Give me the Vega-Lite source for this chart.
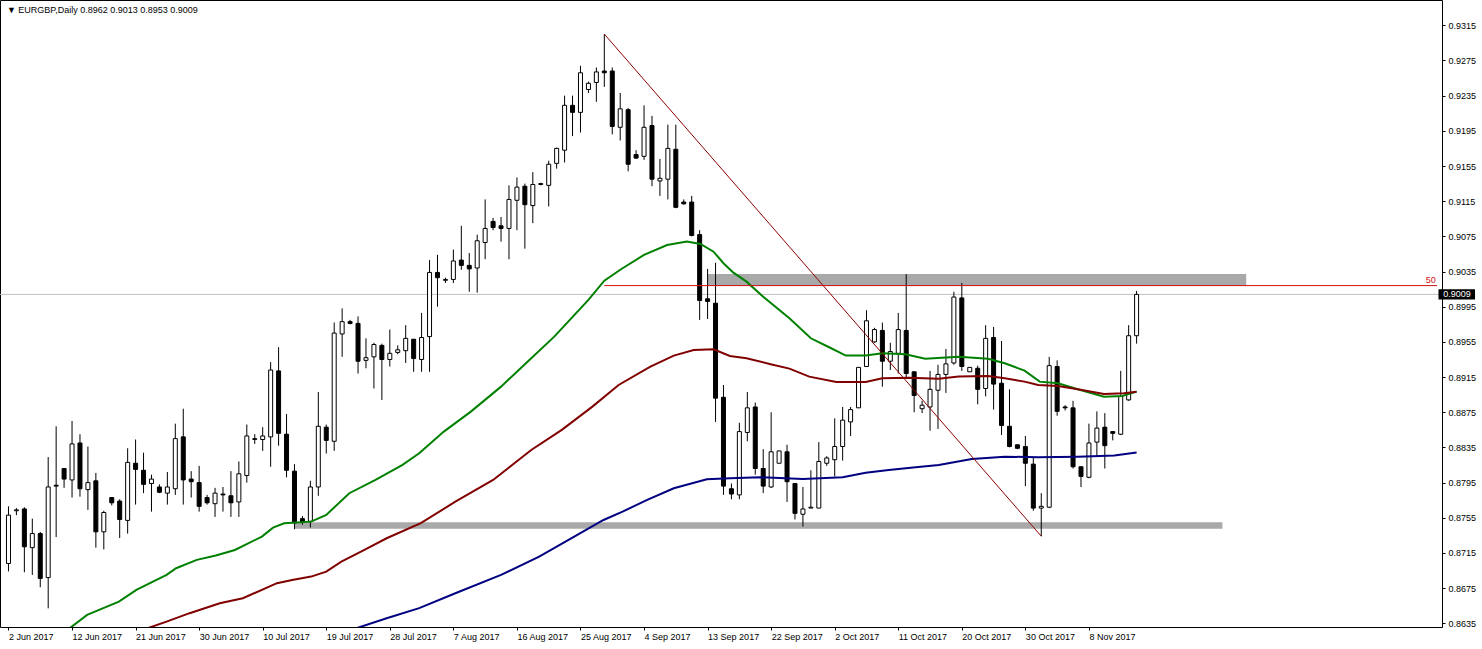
{
"$schema": "https://vega.github.io/schema/vega-lite/v6.json",
"width": 1442,
"height": 627,
"autosize": {"type": "none"},
"padding": {"left": 0, "top": 0, "right": 40, "bottom": 22},
"background": "white",
"config": {"view": {"stroke": "black", "strokeWidth": 1}, "font": "Liberation Sans",
"axis": {"grid": false, "domain": false, "tickSize": 3, "tickColor": "black", "labelFont": "Liberation Sans", "labelFontSize": 9, "labelColor": "black", "labelFlush": false, "labelOverlap": false}},
"datasets": {
"candles": [
{"i":0,"o":0.8703,"h":0.8768,"l":0.8694,"c":0.8758},
{"i":1,"o":0.8763,"h":0.8766,"l":0.8758,"c":0.8764},
{"i":2,"o":0.8765,"h":0.8767,"l":0.8693,"c":0.8722},
{"i":3,"o":0.8721,"h":0.8754,"l":0.8690,"c":0.8737},
{"i":4,"o":0.8737,"h":0.8739,"l":0.8676,"c":0.8686},
{"i":5,"o":0.8687,"h":0.8824,"l":0.8652,"c":0.8790},
{"i":6,"o":0.8792,"h":0.8859,"l":0.8733,"c":0.8791},
{"i":7,"o":0.8811,"h":0.8811,"l":0.8789,"c":0.8799},
{"i":8,"o":0.8798,"h":0.8865,"l":0.8778,"c":0.8839},
{"i":9,"o":0.8840,"h":0.8850,"l":0.8779,"c":0.8788},
{"i":10,"o":0.8787,"h":0.8836,"l":0.8764,"c":0.8795},
{"i":11,"o":0.8797,"h":0.8806,"l":0.8721,"c":0.8739},
{"i":12,"o":0.8739,"h":0.8763,"l":0.8719,"c":0.8761},
{"i":13,"o":0.8778,"h":0.8778,"l":0.8769,"c":0.8772},
{"i":14,"o":0.8774,"h":0.8776,"l":0.8732,"c":0.8753},
{"i":15,"o":0.8752,"h":0.8834,"l":0.8737,"c":0.8818},
{"i":16,"o":0.8817,"h":0.8844,"l":0.8770,"c":0.8810},
{"i":17,"o":0.8809,"h":0.8829,"l":0.8783,"c":0.8793},
{"i":18,"o":0.8794,"h":0.8804,"l":0.8762,"c":0.8799},
{"i":19,"o":0.8790,"h":0.8793,"l":0.8783,"c":0.8784},
{"i":20,"o":0.8783,"h":0.8807,"l":0.8770,"c":0.8790},
{"i":21,"o":0.8788,"h":0.8862,"l":0.8781,"c":0.8845},
{"i":22,"o":0.8847,"h":0.8879,"l":0.8770,"c":0.8798},
{"i":23,"o":0.8799,"h":0.8808,"l":0.8778,"c":0.8796},
{"i":24,"o":0.8795,"h":0.8814,"l":0.8762,"c":0.8768},
{"i":25,"o":0.8778,"h":0.8781,"l":0.8770,"c":0.8772},
{"i":26,"o":0.8771,"h":0.8789,"l":0.8756,"c":0.8783},
{"i":27,"o":0.8782,"h":0.8790,"l":0.8762,"c":0.8781},
{"i":28,"o":0.8780,"h":0.8808,"l":0.8756,"c":0.8772},
{"i":29,"o":0.8773,"h":0.8819,"l":0.8756,"c":0.8805},
{"i":30,"o":0.8803,"h":0.8861,"l":0.8795,"c":0.8848},
{"i":31,"o":0.8844,"h":0.8850,"l":0.8839,"c":0.8845},
{"i":32,"o":0.8844,"h":0.8858,"l":0.8831,"c":0.8848},
{"i":33,"o":0.8847,"h":0.8932,"l":0.8813,"c":0.8923},
{"i":34,"o":0.8922,"h":0.8949,"l":0.8837,"c":0.8851},
{"i":35,"o":0.8850,"h":0.8873,"l":0.8801,"c":0.8809},
{"i":36,"o":0.8808,"h":0.8816,"l":0.8742,"c":0.8749},
{"i":37,"o":0.8754,"h":0.8757,"l":0.8747,"c":0.8750},
{"i":38,"o":0.8751,"h":0.8797,"l":0.8744,"c":0.8790},
{"i":39,"o":0.8790,"h":0.8898,"l":0.8780,"c":0.8859},
{"i":40,"o":0.8858,"h":0.8861,"l":0.8828,"c":0.8843},
{"i":41,"o":0.8842,"h":0.8977,"l":0.8831,"c":0.8965},
{"i":42,"o":0.8964,"h":0.8993,"l":0.8938,"c":0.8978},
{"i":43,"o":0.8978,"h":0.8980,"l":0.8975,"c":0.8976},
{"i":44,"o":0.8976,"h":0.8984,"l":0.8919,"c":0.8933},
{"i":45,"o":0.8934,"h":0.8959,"l":0.8925,"c":0.8937},
{"i":46,"o":0.8938,"h":0.8954,"l":0.8902,"c":0.8952},
{"i":47,"o":0.8951,"h":0.8953,"l":0.8889,"c":0.8935},
{"i":48,"o":0.8935,"h":0.8969,"l":0.8927,"c":0.8942},
{"i":49,"o":0.8943,"h":0.8951,"l":0.8941,"c":0.8946},
{"i":50,"o":0.8945,"h":0.8974,"l":0.8931,"c":0.8959},
{"i":51,"o":0.8958,"h":0.8958,"l":0.8921,"c":0.8936},
{"i":52,"o":0.8935,"h":0.8988,"l":0.8921,"c":0.8960},
{"i":53,"o":0.8961,"h":0.9048,"l":0.8921,"c":0.9034},
{"i":54,"o":0.9034,"h":0.9054,"l":0.8995,"c":0.9028},
{"i":55,"o":0.9025,"h":0.9028,"l":0.9022,"c":0.9026},
{"i":56,"o":0.9026,"h":0.9060,"l":0.9022,"c":0.9047},
{"i":57,"o":0.9048,"h":0.9087,"l":0.9037,"c":0.9042},
{"i":58,"o":0.9042,"h":0.9056,"l":0.9012,"c":0.9038},
{"i":59,"o":0.9039,"h":0.9077,"l":0.9011,"c":0.9070},
{"i":60,"o":0.9068,"h":0.9117,"l":0.9049,"c":0.9084},
{"i":61,"o":0.9092,"h":0.9096,"l":0.9082,"c":0.9085},
{"i":62,"o":0.9087,"h":0.9097,"l":0.9069,"c":0.9084},
{"i":63,"o":0.9084,"h":0.9133,"l":0.9049,"c":0.9117},
{"i":64,"o":0.9116,"h":0.9142,"l":0.9082,"c":0.9131},
{"i":65,"o":0.9132,"h":0.9135,"l":0.9061,"c":0.9111},
{"i":66,"o":0.9110,"h":0.9148,"l":0.9090,"c":0.9134},
{"i":67,"o":0.9134,"h":0.9136,"l":0.9133,"c":0.9135},
{"i":68,"o":0.9133,"h":0.9161,"l":0.9109,"c":0.9157},
{"i":69,"o":0.9158,"h":0.9176,"l":0.9152,"c":0.9175},
{"i":70,"o":0.9173,"h":0.9235,"l":0.9159,"c":0.9224},
{"i":71,"o":0.9224,"h":0.9235,"l":0.9189,"c":0.9216},
{"i":72,"o":0.9216,"h":0.9269,"l":0.9193,"c":0.9261},
{"i":73,"o":0.9242,"h":0.9251,"l":0.9238,"c":0.9249},
{"i":74,"o":0.9250,"h":0.9267,"l":0.9228,"c":0.9262},
{"i":75,"o":0.9263,"h":0.9305,"l":0.9245,"c":0.9261},
{"i":76,"o":0.9263,"h":0.9267,"l":0.9191,"c":0.9200},
{"i":77,"o":0.9199,"h":0.9238,"l":0.9184,"c":0.9220},
{"i":78,"o":0.9219,"h":0.9221,"l":0.9149,"c":0.9157},
{"i":79,"o":0.9168,"h":0.9173,"l":0.9163,"c":0.9164},
{"i":80,"o":0.9166,"h":0.9224,"l":0.9162,"c":0.9199},
{"i":81,"o":0.9201,"h":0.9212,"l":0.9132,"c":0.9140},
{"i":82,"o":0.9138,"h":0.9163,"l":0.9121,"c":0.9141},
{"i":83,"o":0.9140,"h":0.9202,"l":0.9117,"c":0.9175},
{"i":84,"o":0.9174,"h":0.9202,"l":0.9107,"c":0.9108},
{"i":85,"o":0.9114,"h":0.9117,"l":0.9111,"c":0.9112},
{"i":86,"o":0.9114,"h":0.9121,"l":0.9075,"c":0.9076},
{"i":87,"o":0.9077,"h":0.9082,"l":0.8980,"c":0.9002},
{"i":88,"o":0.9004,"h":0.9038,"l":0.8981,"c":0.9001},
{"i":89,"o":0.8999,"h":0.9045,"l":0.8864,"c":0.8891},
{"i":90,"o":0.8892,"h":0.8906,"l":0.8781,"c":0.8791},
{"i":91,"o":0.8788,"h":0.8794,"l":0.8776,"c":0.8782},
{"i":92,"o":0.8781,"h":0.8863,"l":0.8776,"c":0.8853},
{"i":93,"o":0.8852,"h":0.8898,"l":0.8842,"c":0.8880},
{"i":94,"o":0.8881,"h":0.8886,"l":0.8804,"c":0.8811},
{"i":95,"o":0.8811,"h":0.8833,"l":0.8783,"c":0.8791},
{"i":96,"o":0.8790,"h":0.8875,"l":0.8789,"c":0.8830},
{"i":97,"o":0.8817,"h":0.8831,"l":0.8817,"c":0.8831},
{"i":98,"o":0.8830,"h":0.8838,"l":0.8773,"c":0.8796},
{"i":99,"o":0.8794,"h":0.8794,"l":0.8753,"c":0.8760},
{"i":100,"o":0.8759,"h":0.8790,"l":0.8745,"c":0.8765},
{"i":101,"o":0.8766,"h":0.8809,"l":0.8766,"c":0.8767},
{"i":102,"o":0.8766,"h":0.8841,"l":0.8766,"c":0.8819},
{"i":103,"o":0.8817,"h":0.8825,"l":0.8814,"c":0.8823},
{"i":104,"o":0.8821,"h":0.8868,"l":0.8802,"c":0.8836},
{"i":105,"o":0.8836,"h":0.8881,"l":0.8820,"c":0.8866},
{"i":106,"o":0.8864,"h":0.8881,"l":0.8848,"c":0.8878},
{"i":107,"o":0.8880,"h":0.8926,"l":0.8880,"c":0.8926},
{"i":108,"o":0.8927,"h":0.8991,"l":0.8927,"c":0.8979},
{"i":109,"o":0.8955,"h":0.8971,"l":0.8954,"c":0.8969},
{"i":110,"o":0.8968,"h":0.8977,"l":0.8904,"c":0.8933},
{"i":111,"o":0.8933,"h":0.8954,"l":0.8923,"c":0.8944},
{"i":112,"o":0.8942,"h":0.8988,"l":0.8919,"c":0.8969},
{"i":113,"o":0.8968,"h":0.9032,"l":0.8914,"c":0.8919},
{"i":114,"o":0.8921,"h":0.8921,"l":0.8875,"c":0.8894},
{"i":115,"o":0.8879,"h":0.8888,"l":0.8874,"c":0.8883},
{"i":116,"o":0.8881,"h":0.8922,"l":0.8854,"c":0.8901},
{"i":117,"o":0.8900,"h":0.8929,"l":0.8856,"c":0.8918},
{"i":118,"o":0.8918,"h":0.8947,"l":0.8897,"c":0.8930},
{"i":119,"o":0.8931,"h":0.9012,"l":0.8929,"c":0.9006},
{"i":120,"o":0.9005,"h":0.9022,"l":0.8922,"c":0.8927},
{"i":121,"o":0.8921,"h":0.8926,"l":0.8921,"c":0.8926},
{"i":122,"o":0.8925,"h":0.8928,"l":0.8884,"c":0.8901},
{"i":123,"o":0.8902,"h":0.8974,"l":0.8893,"c":0.8959},
{"i":124,"o":0.8960,"h":0.8972,"l":0.8878,"c":0.8907},
{"i":125,"o":0.8908,"h":0.8956,"l":0.8849,"c":0.8860},
{"i":126,"o":0.8859,"h":0.8901,"l":0.8835,"c":0.8836},
{"i":127,"o":0.8838,"h":0.8838,"l":0.8833,"c":0.8834},
{"i":128,"o":0.8836,"h":0.8848,"l":0.8791,"c":0.8817},
{"i":129,"o":0.8816,"h":0.8823,"l":0.8763,"c":0.8766},
{"i":130,"o":0.8766,"h":0.8783,"l":0.8734,"c":0.8768},
{"i":131,"o":0.8767,"h":0.8938,"l":0.8766,"c":0.8928},
{"i":132,"o":0.8927,"h":0.8934,"l":0.8871,"c":0.8876},
{"i":133,"o":0.8881,"h":0.8883,"l":0.8877,"c":0.8880},
{"i":134,"o":0.8880,"h":0.8888,"l":0.8811,"c":0.8813},
{"i":135,"o":0.8813,"h":0.8813,"l":0.8790,"c":0.8802},
{"i":136,"o":0.8801,"h":0.8862,"l":0.8800,"c":0.8840},
{"i":137,"o":0.8841,"h":0.8876,"l":0.8824,"c":0.8857},
{"i":138,"o":0.8858,"h":0.8874,"l":0.8811,"c":0.8837},
{"i":139,"o":0.8853,"h":0.8853,"l":0.8843,"c":0.8851},
{"i":140,"o":0.8850,"h":0.8922,"l":0.8849,"c":0.8893},
{"i":141,"o":0.8889,"h":0.8974,"l":0.8888,"c":0.8962},
{"i":142,"o":0.8962,"h":0.9013,"l":0.8953,"c":0.9009}
],
"ma": [
{"s":"MA50","i":7.7,"v":0.86294},{"s":"MA50","i":9.9,"v":0.86445},{"s":"MA50","i":13.9,"v":0.86597},{"s":"MA50","i":16.1,"v":0.86730},{"s":"MA50","i":19.9,"v":0.86900},{"s":"MA50","i":21.1,"v":0.86976},{"s":"MA50","i":23.7,"v":0.87071},{"s":"MA50","i":26.1,"v":0.87120},{"s":"MA50","i":28.5,"v":0.87184},{"s":"MA50","i":31.9,"v":0.87336},{"s":"MA50","i":33.3,"v":0.87438},{"s":"MA50","i":34.7,"v":0.87488},{"s":"MA50","i":38.1,"v":0.87506},{"s":"MA50","i":40,"v":0.87582},{"s":"MA50","i":42.9,"v":0.87829},{"s":"MA50","i":46.2,"v":0.87980},{"s":"MA50","i":49.6,"v":0.88151},{"s":"MA50","i":51.7,"v":0.88284},{"s":"MA50","i":54.8,"v":0.88530},{"s":"MA50","i":58.2,"v":0.88757},{"s":"MA50","i":62,"v":0.89041},{"s":"MA50","i":64.9,"v":0.89288},{"s":"MA50","i":68.7,"v":0.89610},{"s":"MA50","i":73,"v":0.90027},{"s":"MA50","i":75,"v":0.90246},{"s":"MA50","i":77.1,"v":0.90376},{"s":"MA50","i":80,"v":0.90539},{"s":"MA50","i":82.9,"v":0.90652},{"s":"MA50","i":85.4,"v":0.90690},{"s":"MA50","i":87.1,"v":0.90664},{"s":"MA50","i":88.75,"v":0.90576},{"s":"MA50","i":90,"v":0.90444},{"s":"MA50","i":91.25,"v":0.90337},{"s":"MA50","i":92.9,"v":0.90235},{"s":"MA50","i":95,"v":0.90064},{"s":"MA50","i":98.3,"v":0.89819},{"s":"MA50","i":101,"v":0.89591},{"s":"MA50","i":103.3,"v":0.89489},{"s":"MA50","i":105.4,"v":0.89394},{"s":"MA50","i":107.9,"v":0.89394},{"s":"MA50","i":110,"v":0.89421},{"s":"MA50","i":112.9,"v":0.89410},{"s":"MA50","i":115.4,"v":0.89359},{"s":"MA50","i":119.6,"v":0.89382},{"s":"MA50","i":123.3,"v":0.89359},{"s":"MA50","i":125.4,"v":0.89307},{"s":"MA50","i":127.9,"v":0.89223},{"s":"MA50","i":129.8,"v":0.89098},{"s":"MA50","i":132.1,"v":0.89080},{"s":"MA50","i":134.6,"v":0.89011},{"s":"MA50","i":137.9,"v":0.88927},{"s":"MA50","i":140.2,"v":0.88935},{"s":"MA50","i":142,"v":0.88984},
{"s":"MA100","i":17.5,"v":0.86294},{"s":"MA100","i":19.9,"v":0.86369},{"s":"MA100","i":22.8,"v":0.86465},{"s":"MA100","i":26.6,"v":0.86578},{"s":"MA100","i":29.5,"v":0.86635},{"s":"MA100","i":33.8,"v":0.86806},{"s":"MA100","i":35.7,"v":0.86843},{"s":"MA100","i":38.1,"v":0.86881},{"s":"MA100","i":40,"v":0.86938},{"s":"MA100","i":41.9,"v":0.87051},{"s":"MA100","i":44.8,"v":0.87184},{"s":"MA100","i":47.6,"v":0.87317},{"s":"MA100","i":51.9,"v":0.87488},{"s":"MA100","i":56.25,"v":0.87733},{"s":"MA100","i":61,"v":0.87980},{"s":"MA100","i":65.8,"v":0.88321},{"s":"MA100","i":69.65,"v":0.88549},{"s":"MA100","i":73.5,"v":0.88814},{"s":"MA100","i":76.8,"v":0.89060},{"s":"MA100","i":80.8,"v":0.89268},{"s":"MA100","i":83.75,"v":0.89394},{"s":"MA100","i":86.25,"v":0.89458},{"s":"MA100","i":88.75,"v":0.89466},{"s":"MA100","i":90.8,"v":0.89390},{"s":"MA100","i":92.9,"v":0.89364},{"s":"MA100","i":95.8,"v":0.89299},{"s":"MA100","i":98.3,"v":0.89246},{"s":"MA100","i":100.8,"v":0.89155},{"s":"MA100","i":104.2,"v":0.89095},{"s":"MA100","i":107.9,"v":0.89095},{"s":"MA100","i":110,"v":0.89137},{"s":"MA100","i":113.3,"v":0.89143},{"s":"MA100","i":117.1,"v":0.89132},{"s":"MA100","i":119.6,"v":0.89155},{"s":"MA100","i":123.3,"v":0.89163},{"s":"MA100","i":125.4,"v":0.89137},{"s":"MA100","i":127.9,"v":0.89098},{"s":"MA100","i":129.6,"v":0.89060},{"s":"MA100","i":132.1,"v":0.89049},{"s":"MA100","i":134.6,"v":0.89011},{"s":"MA100","i":137.9,"v":0.88958},{"s":"MA100","i":140.4,"v":0.88966},{"s":"MA100","i":142,"v":0.88984},
{"s":"MA200","i":43.8,"v":0.86294},{"s":"MA200","i":47.6,"v":0.86408},{"s":"MA200","i":51.7,"v":0.86522},{"s":"MA200","i":56.25,"v":0.86692},{"s":"MA200","i":62,"v":0.86900},{"s":"MA200","i":66.8,"v":0.87108},{"s":"MA200","i":71.6,"v":0.87355},{"s":"MA200","i":74.9,"v":0.87525},{"s":"MA200","i":77.3,"v":0.87620},{"s":"MA200","i":80.4,"v":0.87753},{"s":"MA200","i":83.75,"v":0.87886},{"s":"MA200","i":87.9,"v":0.87988},{"s":"MA200","i":90.8,"v":0.87999},{"s":"MA200","i":94.6,"v":0.88011},{"s":"MA200","i":100,"v":0.87992},{"s":"MA200","i":105,"v":0.88011},{"s":"MA200","i":107.9,"v":0.88063},{"s":"MA200","i":110.8,"v":0.88094},{"s":"MA200","i":114.2,"v":0.88125},{"s":"MA200","i":117.1,"v":0.88151},{"s":"MA200","i":121.25,"v":0.88219},{"s":"MA200","i":125.4,"v":0.88245},{"s":"MA200","i":129.6,"v":0.88238},{"s":"MA200","i":134.6,"v":0.88245},{"s":"MA200","i":139.2,"v":0.88257},{"s":"MA200","i":142,"v":0.88291}
],
"zones": [
{"x1":36.02,"x2":152.8,"p1":0.87426,"p2":0.87498},
{"x1":88.03,"x2":155.8,"p1":0.90185,"p2":0.90322}
],
"fib": [
{"i1":75,"p1":0.9305,"i2":130,"p2":0.8734}
]
},
"layer": [
{
"data": {"name": "zones"},
"mark": {"type": "rect", "color": "#A9A9A9", "clip": true},
"encoding": {
"x": {"field": "x1", "type": "quantitative", "scale": {"domain": [-0.4375, 179.8125], "nice": false, "zero": false},
"axis": {"orient": "bottom", "values": [0,8,16,24,32,40,48,56,64,72,80,88,96,104,112,120,128,136],
"labelExpr": "['2 Jun 2017','12 Jun 2017','21 Jun 2017','30 Jun 2017','10 Jul 2017','19 Jul 2017','28 Jul 2017','7 Aug 2017','16 Aug 2017','25 Aug 2017','4 Sep 2017','13 Sep 2017','22 Sep 2017','2 Oct 2017','11 Oct 2017','20 Oct 2017','30 Oct 2017','8 Nov 2017'][round(datum.value/8)]",
"labelAlign": "left", "labelBaseline": "top", "labelPadding": 2, "title": null, "labelOverlap": false, "labelFlush": false, "labelBound": false}},
"x2": {"field": "x2"},
"y": {"field": "p1", "type": "quantitative", "scale": {"domain": [0.863078, 0.934377], "nice": false, "zero": false},
"axis": {"orient": "right", "values": [0.8635,0.8675,0.8715,0.8755,0.8795,0.8835,0.8875,0.8915,0.8955,0.8995,0.9035,0.9075,0.9115,0.9155,0.9195,0.9235,0.9275,0.9315],
"format": ".4f", "title": null, "labelPadding": 3, "labelOverlap": false, "labelFlush": false, "labelBound": false, "tickCount": 18}},
"y2": {"field": "p2"}
}
},
{
"data": {"values": [{"p": 0.9009}]},
"mark": {"type": "rule", "color": "#C0C0C0", "strokeWidth": 1, "clip": true},
"encoding": {
"y": {"field": "p", "type": "quantitative", "scale": {"domain": [0.863078, 0.934377], "nice": false, "zero": false}, "title": null}
}
},
{
"data": {"name": "candles"},
"mark": {"type": "rule", "color": "black", "strokeWidth": 1, "clip": true},
"encoding": {
"x": {"field": "i", "type": "quantitative", "scale": {"domain": [-0.4375, 179.8125], "nice": false, "zero": false}, "title": null},
"y": {"field": "l", "type": "quantitative", "scale": {"domain": [0.863078, 0.934377], "nice": false, "zero": false}, "title": null},
"y2": {"field": "h"}
}
},
{
"data": {"name": "candles"},
"mark": {"type": "bar", "size": 4, "stroke": "black", "strokeWidth": 1, "clip": true},
"encoding": {
"x": {"field": "i", "type": "quantitative", "scale": {"domain": [-0.4375, 179.8125], "nice": false, "zero": false}, "title": null},
"y": {"field": "o", "type": "quantitative", "scale": {"domain": [0.863078, 0.934377], "nice": false, "zero": false}, "title": null},
"y2": {"field": "c"},
"fill": {"condition": {"test": "datum.c > datum.o", "value": "white"}, "value": "black"}
}
},
{
"data": {"name": "ma"},
"mark": {"type": "line", "strokeWidth": 2, "clip": true},
"encoding": {
"x": {"field": "i", "type": "quantitative", "scale": {"domain": [-0.4375, 179.8125], "nice": false, "zero": false}, "title": null},
"y": {"field": "v", "type": "quantitative", "scale": {"domain": [0.863078, 0.934377], "nice": false, "zero": false}, "title": null},
"color": {"field": "s", "type": "nominal", "scale": {"domain": ["MA50","MA100","MA200"], "range": ["#008000","#800000","#000080"]}, "legend": null}
}
},
{
"data": {"name": "fib"},
"mark": {"type": "rule", "color": "#8B0000", "strokeWidth": 1, "clip": true},
"encoding": {
"x": {"field": "i1", "type": "quantitative", "scale": {"domain": [-0.4375, 179.8125], "nice": false, "zero": false}, "title": null},
"x2": {"field": "i2"},
"y": {"field": "p1", "type": "quantitative", "scale": {"domain": [0.863078, 0.934377], "nice": false, "zero": false}, "title": null},
"y2": {"field": "p2"}
}
},
{
"data": {"values": [{"level": 0.9019, "start": 75, "t": "50"}]},
"layer": [
{
"mark": {"type": "rule", "color": "#D01010", "strokeWidth": 1, "clip": true},
"encoding": {
"x": {"field": "start", "type": "quantitative", "scale": {"domain": [-0.4375, 179.8125], "nice": false, "zero": false}, "title": null},
"x2": {"datum": 179.8125},
"y": {"field": "level", "type": "quantitative", "scale": {"domain": [0.863078, 0.934377], "nice": false, "zero": false}, "title": null}
}
},
{
"mark": {"type": "text", "color": "#D01010", "font": "Liberation Sans", "fontSize": 9, "align": "right", "baseline": "bottom", "dy": -1},
"encoding": {
"x": {"datum": 179.65, "type": "quantitative", "scale": {"domain": [-0.4375, 179.8125], "nice": false, "zero": false}, "title": null},
"y": {"field": "level", "type": "quantitative", "scale": {"domain": [0.863078, 0.934377], "nice": false, "zero": false}, "title": null},
"text": {"field": "t"}
}
}
]
},
{
"data": {"values": [{"p": 0.9009, "t": "0.9009"}]},
"layer": [
{
"mark": {"type": "rect", "color": "black", "clip": false},
"encoding": {
"x": {"datum": 180.0, "type": "quantitative", "scale": {"domain": [-0.4375, 179.8125], "nice": false, "zero": false}, "title": null},
"x2": {"datum": 184.6},
"y": {"datum": 0.90148, "type": "quantitative", "scale": {"domain": [0.863078, 0.934377], "nice": false, "zero": false}, "title": null},
"y2": {"datum": 0.90032}
}
},
{
"mark": {"type": "text", "color": "white", "font": "Liberation Sans", "fontSize": 9, "align": "left", "baseline": "middle", "clip": false},
"encoding": {
"x": {"datum": 180.6, "type": "quantitative", "scale": {"domain": [-0.4375, 179.8125], "nice": false, "zero": false}, "title": null},
"y": {"field": "p", "type": "quantitative", "scale": {"domain": [0.863078, 0.934377], "nice": false, "zero": false}, "title": null},
"text": {"field": "t"}
}
}
]
},
{
"data": {"values": [{"t": "▼ EURGBP,Daily  0.8962 0.9013 0.8953 0.9009"}]},
"mark": {"type": "text", "color": "black", "font": "Liberation Sans", "fontSize": 9, "align": "left", "baseline": "middle"},
"encoding": {
"x": {"datum": -0.2, "type": "quantitative", "scale": {"domain": [-0.4375, 179.8125], "nice": false, "zero": false}, "title": null},
"y": {"datum": 0.93324, "type": "quantitative", "scale": {"domain": [0.863078, 0.934377], "nice": false, "zero": false}, "title": null},
"text": {"field": "t"}
}
}
]
}
